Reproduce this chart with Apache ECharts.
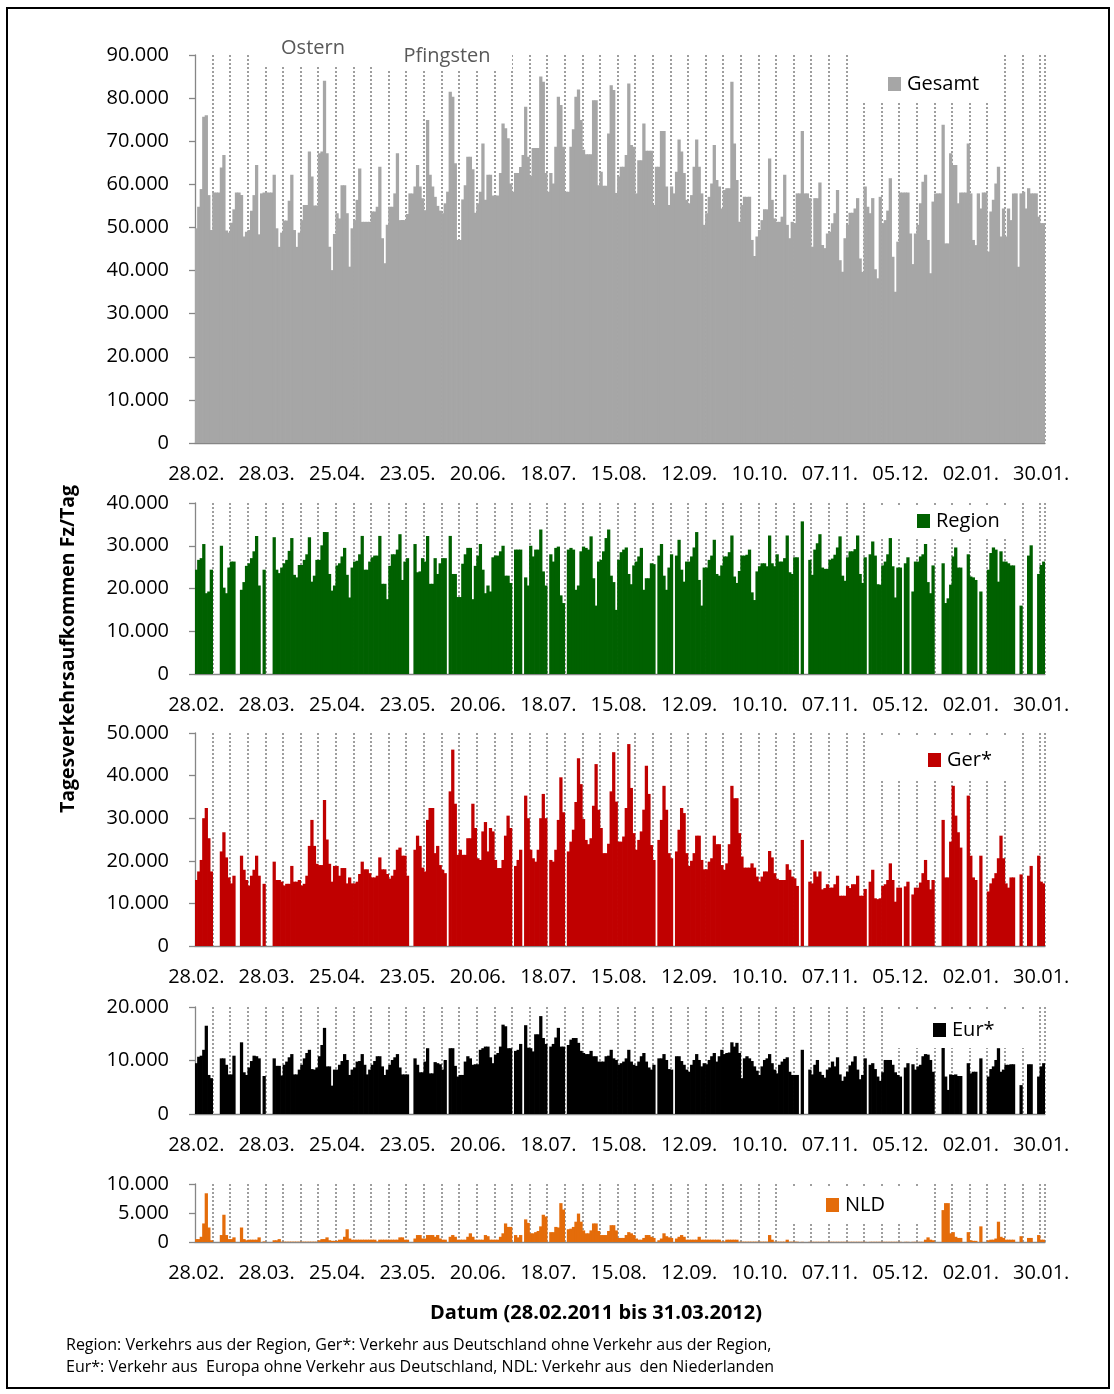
<!DOCTYPE html>
<html>
<head>
<meta charset="utf-8">
<script src="https://cdn.jsdelivr.net/npm/echarts@6/dist/echarts.min.js"></script>
<style>
  html, body { margin: 0; padding: 0; background: #fff; }
  #chart { width: 1114px; height: 1394px; }
</style>
</head>
<body>
<div id="chart"></div>
<script>
// Tagesverkehrsaufkommen (Fz/Tag, in Tausend), 28.02.2011 – 31.01.2012, ein Wert je Tag.
// 0 = kein Messwert an diesem Tag.
const gesamt = [
  49.8, 54.8, 58.9, 75.7, 76.0, 57.5, 49.4,
  58.1, 58.1, 58.1, 63.9, 66.8, 49.3, 48.8,
  51.1, 54.2, 58.1, 58.1, 57.5, 47.9, 49.0,
  49.4, 53.9, 57.5, 64.5, 48.4, 57.9, 58.1,
  58.1, 58.1, 58.1, 62.2, 49.8, 45.5, 48.8,
  51.6, 51.6, 56.2, 62.2, 49.4, 45.5, 48.8,
  51.7, 55.2, 55.2, 67.6, 61.8, 55.1, 55.1,
  67.2, 67.6, 84.0, 67.2, 45.5, 40.1, 48.5,
  53.3, 52.1, 59.8, 59.8, 53.3, 40.9, 49.8,
  51.7, 56.4, 63.7, 51.3, 51.3, 51.3, 51.3,
  53.7, 53.7, 54.8, 64.1, 47.5, 41.7, 50.6,
  54.8, 54.8, 57.9, 67.2, 51.7, 51.7, 51.7,
  53.1, 57.9, 57.9, 59.5, 64.5, 59.5, 56.8,
  54.0, 74.9, 62.2, 59.5, 57.1, 55.0, 53.9,
  53.3, 55.6, 58.3, 81.5, 80.3, 64.9, 47.1,
  47.1, 56.5, 59.8, 66.4, 66.4, 63.5, 53.4,
  55.6, 58.3, 69.5, 56.4, 62.2, 62.2, 57.4,
  57.4, 57.4, 62.6, 74.1, 73.0, 70.7, 60.2,
  58.3, 62.6, 62.6, 64.0, 66.8, 78.0, 66.4,
  62.0, 68.4, 68.4, 68.4, 85.0, 83.8, 62.6,
  58.3, 62.6, 60.2, 68.7, 80.3, 78.4, 68.7,
  58.3, 58.3, 68.7, 72.8, 80.3, 82.0, 74.9,
  68.0, 67.0, 67.0, 67.0, 79.5, 79.5, 59.8,
  62.9, 59.7, 59.7, 71.8, 83.0, 81.9, 58.0,
  61.8, 64.1, 64.1, 66.8, 83.4, 69.1, 68.7,
  57.9, 65.6, 65.6, 74.1, 67.8, 67.8, 67.8,
  55.2, 64.1, 64.1, 72.4, 72.4, 59.5, 55.2,
  59.5, 57.9, 62.9, 70.4, 67.6, 62.6, 56.4,
  55.6, 57.5, 64.1, 70.4, 64.1, 57.9, 50.6,
  53.3, 57.1, 60.2, 69.1, 61.0, 59.5, 54.4,
  58.7, 59.1, 59.1, 83.8, 69.5, 61.0, 51.3,
  55.2, 57.1, 57.1, 57.1, 47.1, 43.4, 47.9,
  49.4, 51.7, 54.2, 54.2, 66.0, 56.4, 52.1,
  51.3, 51.3, 52.5, 62.2, 50.6, 47.5, 51.3,
  51.0, 57.9, 57.9, 72.4, 57.9, 57.9, 56.8,
  45.5, 56.8, 56.8, 60.4, 45.9, 45.2, 48.6,
  49.0, 51.0, 53.3, 58.7, 42.4, 39.7, 47.5,
  50.6, 53.4, 53.4, 54.4, 56.8, 42.8, 39.7,
  59.5, 54.8, 53.3, 56.8, 40.3, 38.2, 57.1,
  51.0, 51.7, 53.9, 61.4, 43.2, 35.1, 46.7,
  58.1, 58.1, 58.1, 58.1, 48.6, 41.5, 48.6,
  50.6, 55.6, 60.6, 62.2, 47.1, 39.4, 56.0,
  57.9, 57.9, 57.9, 73.8, 46.3, 46.3, 67.2,
  64.5, 64.5, 55.6, 58.1, 58.1, 58.1, 69.5,
  57.9, 47.1, 45.9, 57.9, 54.4, 58.1, 58.1,
  44.4, 53.7, 56.4, 60.2, 64.1, 47.9, 54.4,
  47.9, 54.4, 51.7, 57.9, 57.9, 40.9, 57.9,
  58.3, 54.4, 59.1, 57.9, 57.9, 57.9, 52.5,
  51.0, 51.0
];

const region = [
  24.4, 26.7, 27.1, 30.4, 18.9, 19.3, 24.4,
  0, 0, 0, 30.0, 20.2, 18.9, 24.9,
  26.3, 26.3, 0, 0, 19.7, 21.5, 25.3,
  25.9, 27.1, 28.7, 32.3, 20.7, 0, 24.4,
  0, 0, 0, 32.0, 24.4, 23.6, 24.9,
  25.9, 26.7, 28.8, 31.8, 23.2, 22.6, 25.5,
  25.5, 26.7, 28.0, 32.0, 21.6, 23.0, 26.7,
  26.7, 30.1, 33.2, 33.2, 23.4, 19.5, 20.7,
  25.4, 25.9, 27.5, 29.5, 23.2, 17.9, 24.9,
  26.3, 26.5, 28.0, 32.3, 24.4, 24.4, 26.3,
  27.3, 27.7, 27.7, 32.3, 21.1, 21.1, 17.5,
  25.3, 28.0, 28.0, 29.1, 32.7, 22.0, 26.3,
  27.1, 0, 0, 30.4, 23.8, 24.0, 27.1,
  26.3, 32.3, 21.1, 21.1, 27.1, 23.4, 25.9,
  27.1, 27.1, 0, 32.3, 23.4, 23.4, 18.0,
  18.0, 25.8, 28.0, 29.5, 29.5, 17.5, 25.3,
  27.7, 30.4, 24.4, 18.9, 20.7, 19.3, 27.3,
  27.7, 27.7, 28.7, 30.0, 23.0, 23.0, 21.3,
  0, 29.1, 29.1, 29.1, 0, 22.6, 20.7,
  30.0, 27.5, 29.1, 29.1, 33.8, 24.0, 20.7,
  0, 28.0, 26.3, 29.5, 29.8, 18.4, 16.6,
  0, 29.1, 29.5, 29.1, 19.7, 20.7, 28.7,
  29.8, 29.5, 29.1, 32.2, 22.4, 16.0, 26.3,
  26.7, 28.7, 31.8, 33.8, 23.0, 21.5, 15.0,
  26.7, 28.5, 29.1, 29.6, 23.4, 21.0, 25.4,
  26.3, 27.5, 29.5, 19.7, 22.4, 22.4, 25.9,
  25.7, 0, 27.7, 30.4, 23.0, 19.7, 24.9,
  28.0, 0, 27.7, 31.4, 24.4, 21.6, 26.3,
  26.3, 27.5, 29.6, 33.2, 22.0, 16.0, 24.9,
  24.9, 26.7, 27.7, 31.4, 23.4, 23.0, 25.4,
  27.5, 27.5, 28.5, 32.4, 22.8, 21.3, 24.1,
  27.7, 27.7, 27.9, 29.1, 19.1, 17.3, 24.0,
  25.2, 25.9, 25.9, 25.2, 32.4, 25.9, 25.2,
  28.0, 26.3, 26.3, 27.1, 32.4, 23.8, 23.4,
  27.3, 27.3, 0, 35.7, 0, 0, 26.7,
  23.2, 29.1, 30.6, 32.7, 24.9, 24.6, 24.6,
  26.7, 27.0, 27.9, 29.6, 32.2, 23.0, 21.8,
  27.3, 28.7, 28.7, 29.2, 32.4, 23.4, 21.3,
  27.3, 0, 28.0, 31.0, 27.7, 21.0, 20.9,
  25.4, 26.3, 28.0, 31.8, 25.2, 17.9, 24.9,
  24.9, 0, 25.9, 27.3, 0, 19.3, 26.3,
  26.3, 27.5, 28.0, 30.4, 21.5, 18.9, 25.4,
  0, 0, 0, 25.9, 16.6, 17.7, 20.9,
  27.5, 29.6, 24.9, 24.9, 0, 0, 28.0,
  22.8, 22.6, 22.0, 0, 19.3, 0, 0,
  24.4, 28.3, 29.6, 29.1, 21.6, 28.7, 26.3,
  26.3, 25.9, 25.4, 25.4, 0, 0, 16.0,
  0, 0, 27.7, 30.1, 0, 0, 23.4,
  25.5, 26.3
];

const ger = [
  15.5, 17.5, 20.2, 30.0, 32.4, 25.3, 17.5,
  0, 0, 0, 22.2, 26.7, 20.8, 16.1,
  14.7, 16.5, 0, 0, 21.2, 17.9, 15.5,
  14.2, 16.5, 17.9, 21.2, 16.5, 0, 14.6,
  0, 0, 0, 19.8, 15.5, 15.5, 15.1,
  14.2, 14.6, 14.6, 18.8, 15.1, 15.1, 15.5,
  14.2, 14.6, 16.5, 23.5, 29.6, 23.5, 19.3,
  19.0, 19.0, 34.3, 25.0, 19.3, 15.1, 18.8,
  18.8, 16.5, 18.3, 18.3, 14.7, 16.1, 14.7,
  14.7, 15.1, 16.9, 19.8, 18.0, 18.0, 17.1,
  16.1, 16.1, 16.5, 20.8, 18.0, 18.0, 16.9,
  15.8, 16.5, 17.9, 22.6, 23.1, 21.2, 21.2,
  16.5, 0, 0, 22.6, 25.9, 23.5, 18.4,
  17.5, 29.6, 32.4, 32.4, 21.8, 23.5, 19.0,
  17.9, 17.1, 0, 36.3, 46.1, 33.4, 21.4,
  22.6, 21.4, 21.4, 25.3, 25.3, 33.4, 27.7,
  20.6, 20.2, 26.9, 29.1, 22.2, 27.7, 26.9,
  20.2, 18.3, 18.3, 20.2, 25.9, 30.6, 27.7,
  0, 18.8, 20.2, 22.6, 0, 35.3, 30.0,
  22.6, 20.6, 19.8, 22.6, 30.0, 35.7, 30.0,
  0, 20.2, 19.8, 22.6, 29.6, 39.6, 31.4,
  0, 22.2, 24.5, 27.3, 33.8, 44.1, 38.0,
  29.8, 24.9, 23.9, 25.3, 32.9, 42.7, 32.0,
  27.7, 21.8, 21.8, 24.0, 36.3, 45.5, 33.9,
  24.5, 24.5, 25.7, 32.4, 47.4, 37.1, 26.5,
  22.6, 24.9, 26.9, 32.0, 42.3, 35.7, 23.7,
  20.2, 0, 24.9, 29.6, 37.6, 32.0, 21.8,
  20.6, 0, 22.2, 27.3, 32.4, 31.2, 21.8,
  18.8, 20.0, 21.8, 25.9, 25.9, 20.2, 18.0,
  18.0, 19.8, 20.6, 25.9, 23.9, 23.9, 19.0,
  17.9, 19.4, 23.9, 37.6, 34.7, 34.7, 26.5,
  21.0, 18.4, 18.4, 18.4, 19.4, 18.4, 16.3,
  15.1, 16.3, 17.5, 17.5, 22.3, 20.8, 17.1,
  15.8, 15.5, 15.5, 15.5, 19.2, 17.9, 16.3,
  15.9, 14.1, 0, 24.9, 0, 0, 15.1,
  14.7, 17.5, 16.3, 17.5, 13.3, 13.6, 14.5,
  13.7, 13.7, 14.5, 16.5, 11.8, 11.8, 11.8,
  14.1, 13.6, 14.5, 14.5, 16.5, 11.8, 11.8,
  13.4, 0, 15.1, 17.9, 11.2, 11.0, 11.2,
  14.1, 14.5, 15.5, 19.4, 15.5, 10.4, 13.7,
  13.7, 0, 14.0, 15.1, 0, 12.1, 13.7,
  13.7, 14.9, 17.1, 20.2, 15.5, 13.3, 15.5,
  0, 0, 0, 29.6, 16.1, 16.1, 24.5,
  37.6, 30.6, 26.7, 23.1, 0, 0, 35.3,
  21.2, 16.1, 15.5, 0, 21.2, 0, 0,
  12.8, 14.7, 15.9, 17.1, 20.6, 25.9, 20.6,
  14.7, 13.7, 16.1, 16.1, 0, 0, 16.8,
  0, 0, 16.5, 18.8, 0, 0, 21.2,
  15.1, 14.7
];

const eur = [
  9.5, 10.7, 10.9, 12.0, 16.5, 7.3, 6.7,
  0, 0, 0, 10.4, 10.4, 9.2, 7.4,
  7.4, 10.9, 0, 0, 13.4, 7.8, 7.3,
  8.7, 9.9, 10.9, 10.8, 10.4, 0, 7.1,
  0, 0, 0, 10.4, 9.0, 9.0, 7.2,
  9.2, 9.8, 10.6, 11.2, 7.4, 7.4, 8.3,
  9.2, 10.4, 11.4, 12.0, 8.4, 8.3, 8.7,
  10.8, 12.9, 16.1, 8.9, 8.9, 5.3, 8.3,
  8.3, 9.2, 9.9, 11.2, 10.1, 7.3, 8.3,
  8.7, 9.8, 9.9, 11.2, 9.2, 7.4, 8.3,
  9.2, 9.9, 10.8, 10.8, 8.9, 7.3, 8.3,
  9.2, 10.1, 10.6, 11.2, 8.7, 7.4, 7.4,
  7.4, 0, 0, 10.4, 9.2, 7.8, 7.8,
  9.8, 12.3, 7.6, 7.6, 9.7, 9.5, 9.3,
  8.3, 10.1, 0, 12.3, 12.3, 9.0, 7.0,
  7.3, 7.3, 9.8, 10.8, 10.4, 9.2, 9.3,
  9.3, 12.0, 12.3, 12.6, 12.6, 10.6, 9.5,
  11.1, 11.4, 12.6, 16.7, 16.4, 12.3, 12.3,
  0, 11.8, 12.0, 13.1, 0, 16.6, 12.4,
  12.3, 11.7, 14.9, 14.9, 18.3, 14.2, 13.1,
  0, 12.6, 13.1, 14.3, 16.1, 12.6, 12.6,
  0, 12.9, 13.9, 14.2, 14.2, 13.3, 11.8,
  11.4, 11.2, 11.2, 11.8, 10.8, 10.8, 9.8,
  9.8, 9.8, 10.8, 10.9, 12.0, 10.4, 10.1,
  9.2, 9.5, 9.8, 10.4, 12.0, 9.8, 9.2,
  9.0, 9.8, 10.8, 11.4, 9.8, 8.7, 8.3,
  9.2, 0, 10.4, 10.4, 11.2, 10.1, 8.4,
  8.3, 0, 10.8, 10.8, 9.9, 9.2, 8.3,
  7.9, 9.2, 10.1, 11.2, 10.1, 8.9, 9.5,
  9.3, 10.1, 10.8, 11.4, 9.8, 10.8, 12.0,
  11.2, 11.4, 11.5, 13.4, 12.6, 13.3, 11.4,
  6.7, 10.4, 10.8, 10.4, 9.9, 8.9, 8.1,
  7.3, 8.9, 10.1, 10.4, 11.2, 9.5, 8.3,
  7.6, 9.2, 9.8, 10.3, 10.6, 7.9, 7.3,
  7.3, 7.3, 0, 12.0, 0, 0, 8.3,
  7.4, 9.2, 10.1, 7.9, 7.3, 6.8, 8.3,
  8.7, 9.8, 8.9, 10.6, 7.4, 6.2, 7.0,
  7.9, 9.1, 9.8, 10.8, 8.3, 6.5, 7.3,
  10.4, 0, 9.2, 9.5, 8.4, 7.0, 6.2,
  7.8, 10.1, 10.1, 10.1, 9.2, 7.8, 7.3,
  7.0, 0, 8.7, 9.5, 0, 9.3, 8.3,
  8.9, 9.2, 10.8, 11.2, 11.1, 10.1, 7.9,
  0, 0, 0, 12.4, 7.0, 4.5, 7.4,
  7.3, 7.4, 7.1, 7.1, 0, 0, 9.5,
  7.6, 7.9, 7.9, 0, 10.4, 0, 0,
  7.0, 8.4, 8.9, 10.1, 12.3, 7.9, 8.3,
  9.2, 9.2, 9.3, 9.3, 0, 0, 5.4,
  0, 0, 9.3, 9.3, 0, 0, 7.0,
  8.9, 9.5
];

const nld = [
  0.5, 0.5, 0.9, 3.2, 8.4, 2.5, 0.3,
  0, 0, 0, 1.2, 4.7, 1.2, 0.5,
  0.5, 0.8, 0, 0, 2.5, 0.5, 0.3,
  0.4, 0.4, 0.4, 0.4, 0.8, 0, 0.1,
  0, 0, 0, 0.3, 0.3, 0.5, 0.05,
  0.05, 0.05, 0.05, 0.05, 0.05, 0.05, 0.05,
  0.05, 0.05, 0.05, 0.05, 0.05, 0.05, 0.05,
  0.3, 0.5, 0.5, 0.8, 0.3, 0.2, 0.2,
  0.2, 0.4, 0.4, 0.9, 2.2, 0.6, 0.4,
  0.4, 0.4, 0.4, 0.4, 0.4, 0.4, 0.4,
  0.4, 0.4, 0.1, 0.4, 0.4, 0.4, 0.4,
  0.4, 0.4, 0.4, 0.4, 0.8, 0.8, 0.4,
  0.4, 0, 0, 0.6, 1.2, 1.2, 0.6,
  0.6, 1.2, 1.2, 1.2, 0.9, 1.2, 0.6,
  0.4, 0.4, 0, 0.9, 1.2, 0.9, 0.4,
  0.4, 0.4, 0.4, 0.9, 1.5, 0.9, 0.4,
  0.4, 0.4, 0.4, 1.2, 1.0, 0.4, 0.4,
  0.4, 0.4, 0.9, 1.5, 3.2, 2.6, 2.6,
  0, 1.2, 0.8, 1.2, 0, 3.9, 3.3,
  1.5, 1.5, 1.7, 1.9, 2.7, 4.7, 4.4,
  0, 1.7, 1.7, 2.6, 2.5, 6.7, 5.6,
  0, 2.2, 2.3, 2.6, 3.5, 4.9, 3.5,
  2.0, 1.5, 1.5, 2.0, 3.2, 3.2, 1.9,
  1.2, 1.2, 1.2, 1.9, 2.9, 2.9, 2.0,
  0.7, 0.7, 0.7, 1.2, 1.7, 1.5, 1.2,
  0.6, 0.4, 0.4, 0.7, 1.2, 1.2, 0.9,
  0.7, 0, 0.3, 0.6, 1.5, 1.0, 0.8,
  0.7, 0, 0.6, 0.9, 1.2, 0.9, 0.4,
  0.4, 0.4, 0.4, 0.4, 0.9, 0.4, 0.4,
  0.4, 0.4, 0.4, 0.4, 0.4, 0.4, 0.1,
  0.1, 0.4, 0.4, 0.4, 0.4, 0.4, 0.05,
  0.05, 0.05, 0.05, 0.05, 0.05, 0.05, 0.05,
  0.05, 0.05, 0.05, 0.05, 1.2, 0.4, 0.05,
  0.05, 0.05, 0.05, 0.05, 0.4, 0.05, 0.05,
  0.05, 0.05, 0, 0.03, 0, 0, 0.03,
  0.03, 0.03, 0.03, 0.03, 0.03, 0.03, 0.03,
  0.03, 0.03, 0.03, 0.03, 0.03, 0.03, 0.03,
  0.03, 0.03, 0.03, 0.03, 0.03, 0.03, 0.03,
  0.03, 0, 0.03, 0.03, 0.03, 0.03, 0.03,
  0.03, 0.03, 0.03, 0.03, 0.03, 0.03, 0.03,
  0.03, 0, 0.03, 0.03, 0, 0.03, 0.03,
  0.03, 0.03, 0.03, 0.4, 0.8, 0.4, 0.3,
  0, 0, 0, 5.5, 6.7, 6.7, 1.5,
  1.7, 0.9, 0.7, 0.7, 0, 0, 1.7,
  0.3, 0.2, 0.2, 0, 2.7, 0, 0,
  0.3, 0.4, 0.4, 0.6, 3.5, 0.9, 0.7,
  0.4, 0.4, 0.4, 0.4, 0, 0, 1.0,
  0, 0, 0.7, 0.7, 0, 0, 1.2,
  0.4, 0.4
];

// Kalendertage ab 28.02.2011 als Kategorien "TT.MM."
const days = gesamt.map((_, i) => {
  const d = new Date(2011, 1, 28 + i);
  return String(d.getDate()).padStart(2, '0') + '.' + String(d.getMonth() + 1).padStart(2, '0') + '.';
});

const FONT = '"Open Sans", "Noto Sans", sans-serif';
const AXIS = '#868686';
const GRID_LINE = '#7F7F7F';

const panels = [
  { name: 'Gesamt', data: gesamt, color: '#A6A6A6', top: 55,   height: 388, max: 90, interval: 10,
    legend: { left: 863, top: 55, padding: [19, 16, 9, 25] } },
  { name: 'Region', data: region, color: '#006100', top: 503,  height: 171, max: 40, interval: 10,
    legend: { left: 878, top: 505, padding: [6, 20, 6, 39] } },
  { name: 'Ger*',   data: ger,    color: '#C00000', top: 733,  height: 213, max: 50, interval: 10,
    legend: { left: 878, top: 735, padding: [15, 30, 10, 50] } },
  { name: 'Eur*',   data: eur,    color: '#000000', top: 1007, height: 107, max: 20, interval: 10,
    legend: { left: 898, top: 1010, padding: [10, 33, 8, 35] } },
  { name: 'NLD',    data: nld,    color: '#E46C0A', top: 1184, height: 58,  max: 10, interval: 5,
    legend: { left: 777, top: 1188, padding: [7, 48, 8, 49] } }
];

const option = {
  animation: false,
  backgroundColor: '#fff',
  textStyle: { fontFamily: FONT },
  grid: [], xAxis: [], yAxis: [], series: [], legend: [],
  graphic: []
};

panels.forEach((p, i) => {
  const main = 2 * i, over = 2 * i + 1;
  option.grid.push({ left: 195, right: 69, top: p.top, height: p.height });
  option.grid.push({ left: 195, right: 69, top: p.top, height: p.height });

  option.xAxis.push({
    type: 'category', gridIndex: main, data: days, boundaryGap: true,
    axisLine: { lineStyle: { color: AXIS, width: 1.3 } },
    axisTick: { interval: idx => idx % 7 === 0, length: 4, lineStyle: { color: AXIS, width: 1.3 } },
    axisLabel: { interval: idx => idx % 28 === 0, margin: 21, color: '#000', fontSize: 20, fontFamily: FONT },
    splitLine: { show: true, interval: idx => idx > 0 && idx % 7 === 0,
                 lineStyle: { color: GRID_LINE, type: [2, 2], width: 1.5 } }
  });
  // längere Striche alle vier Wochen
  option.xAxis.push({
    type: 'category', gridIndex: over, data: days, boundaryGap: true,
    axisLine: { show: false },
    axisTick: { interval: idx => idx % 28 === 0, length: 7, lineStyle: { color: AXIS, width: 1.3 } },
    axisLabel: { show: false }, splitLine: { show: false }
  });

  option.yAxis.push({
    type: 'value', gridIndex: main, min: 0, max: p.max, interval: p.interval,
    axisLine: { show: true, lineStyle: { color: AXIS, width: 1.3 } },
    axisTick: { show: true, length: 6, lineStyle: { color: AXIS, width: 1.3 } },
    axisLabel: { formatter: v => (v === 0 ? '0' : v + '.000'), margin: 26, color: '#000', fontSize: 20, fontFamily: FONT },
    splitLine: { show: false }
  });
  option.yAxis.push({ type: 'value', gridIndex: over, min: 0, max: p.max, show: false });

  option.series.push({
    name: p.name, type: 'bar', xAxisIndex: main, yAxisIndex: main,
    data: p.data.map(v => (v === 0 ? '-' : v)),
    barWidth: '130%', barGap: '0%',
    itemStyle: { color: p.color },
    emphasis: { disabled: true }, silent: true
  });

  option.legend.push(Object.assign({
    data: [p.name], orient: 'horizontal', selectedMode: false,
    icon: 'rect', itemWidth: 13, itemHeight: 14, itemGap: 6,
    backgroundColor: '#fff', z: 10,
    textStyle: { fontSize: 20, color: '#000', fontFamily: FONT, padding: [0, 0, 0, 1] }
  }, p.legend));
});

option.graphic = [
  // Feiertagshinweise
  { type: 'rect', shape: { x: 264, y: 40, width: 123, height: 25 }, style: { fill: '#fff' }, z: 10 },
  { type: 'rect', shape: { x: 387, y: 40, width: 125, height: 31 }, style: { fill: '#fff' }, z: 10 },
  { type: 'text', x: 313, y: 48, z: 11,
    style: { text: 'Ostern', fill: '#595959', font: '20px ' + FONT, textAlign: 'center', textVerticalAlign: 'middle' } },
  { type: 'text', x: 447, y: 56, z: 11,
    style: { text: 'Pfingsten', fill: '#595959', font: '20px ' + FONT, textAlign: 'center', textVerticalAlign: 'middle' } },
  // Achsentitel
  { type: 'text', x: 68, y: 649, rotation: Math.PI / 2, z: 11,
    style: { text: 'Tagesverkehrsaufkommen Fz/Tag', fill: '#000', font: 'bold 19.5px ' + FONT,
             textAlign: 'center', textVerticalAlign: 'middle' } },
  { type: 'text', x: 596, y: 1313, z: 11,
    style: { text: 'Datum (28.02.2011 bis 31.03.2012)', fill: '#000', font: 'bold 20px ' + FONT,
             textAlign: 'center', textVerticalAlign: 'middle' } },
  // Fußnote
  { type: 'text', x: 66, y: 1345, z: 11,
    style: { text: 'Region: Verkehrs aus der Region, Ger*: Verkehr aus Deutschland ohne Verkehr aus der Region,',
             fill: '#000', font: '16px ' + FONT, textAlign: 'left', textVerticalAlign: 'middle' } },
  { type: 'text', x: 66, y: 1367, z: 11,
    style: { text: 'Eur*: Verkehr aus  Europa ohne Verkehr aus Deutschland, NDL: Verkehr aus  den Niederlanden',
             fill: '#000', font: '16px ' + FONT, textAlign: 'left', textVerticalAlign: 'middle' } },
  // Rahmen
  { type: 'rect', shape: { x: 7, y: 8, width: 1102, height: 1380 },
    style: { fill: 'none', stroke: '#000', lineWidth: 2 }, z: 12 }
];

const chart = echarts.init(document.getElementById('chart'), null, { renderer: 'canvas' });
chart.setOption(option);
</script>
</body>
</html>
